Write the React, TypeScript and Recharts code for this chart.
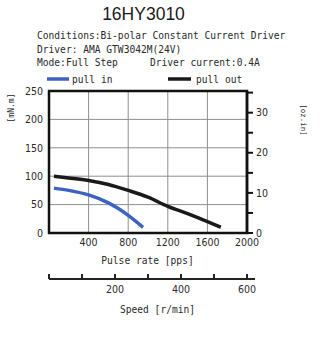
import { LineChart, Line, XAxis, YAxis, CartesianGrid, ReferenceArea } from 'recharts'

const pullInPps = [50, 200, 400, 600, 700, 800, 950]
const pullInTorque = [79, 75, 67, 53, 43, 31, 10]
const pullOutPps = [50, 200, 400, 600, 800, 1000, 1200, 1400, 1600, 1735]
const pullOutTorque = [100, 97, 92.5, 85.5, 75, 63, 47, 34, 20, 10]

const ppsTicks = [400, 800, 1200, 1600, 2000]
const torqueTicks = [0, 50, 100, 150, 200, 250]
const ozTicks = [0, 5, 10, 15, 20, 25, 30, 35]
const ozLabels = [0, 10, 20, 30]
const speedTicks = [0, 100, 200, 300, 400, 500, 600]
const speedLabels = [200, 400, 600]

const pullIn = pullInPps.map((pps, i) => ({ pps, torque: pullInTorque[i] }))
const pullOut = pullOutPps.map((pps, i) => ({ pps, torque: pullOutTorque[i] }))
const speedRows = speedTicks.map((rpm) => ({ rpm }))

const tickFont = "'Liberation Sans Narrow', 'DejaVu Sans Condensed', 'Liberation Sans', Arial, sans-serif"
const mono = "'DejaVu Sans Mono', 'Liberation Mono', monospace"
const textColor = '#2a2a2a'
const blue = '#3d63c2'

function OzTick(props: any) {
  const { x, y, payload } = props
  if (!ozLabels.includes(payload.value)) return null
  return (
    <text x={x} y={y} dy="0.35em" fill={textColor} fontSize={10.5} fontFamily={tickFont}>
      {payload.value}
    </text>
  )
}

// speed ticks point up from the axis line; the line runs a little past the last tick
function SpeedTick(props: any) {
  const { x, y, payload } = props
  const last = payload.value === speedTicks[speedTicks.length - 1]
  return (
    <g>
      <line x1={x} y1={y} x2={x} y2={y - 5} stroke="#222" strokeWidth={2} />
      {last && <line x1={x} y1={y} x2={x + 8} y2={y} stroke="#222" strokeWidth={2} />}
      {speedLabels.includes(payload.value) && (
        <text x={x} y={y + 14} textAnchor="middle" fill={textColor} fontSize={10.5} fontFamily={tickFont}>
          {payload.value}
        </text>
      )}
    </g>
  )
}

export default function App() {
  return (
    <div style={{ position: 'absolute', left: 0, top: 0, width: 323, height: 348, background: '#fff' }}>
      <LineChart
        width={323}
        height={348}
        data={speedRows}
        margin={{ top: 91, left: 9, right: 30, bottom: 39 }}
      >
        <CartesianGrid xAxisId="pps" yAxisId="left" stroke="#8f8f8f" strokeWidth={1} />
        <XAxis
          xAxisId="pps"
          dataKey="pps"
          type="number"
          domain={[0, 2000]}
          allowDataOverflow
          ticks={ppsTicks}
          interval={0}
          height={46}
          axisLine={false}
          tickLine={false}
          tickSize={0}
          tickMargin={6}
          tick={{ fill: textColor, fontSize: 10.5, fontFamily: tickFont }}
        />
        <XAxis
          xAxisId="speed"
          dataKey="rpm"
          type="number"
          domain={[0, 600]}
          allowDataOverflow
          ticks={speedTicks}
          interval={0}
          height={30}
          axisLine={{ stroke: '#222', strokeWidth: 2 }}
          tickLine={false}
          tickSize={0}
          tickMargin={0}
          tick={<SpeedTick />}
        />
        <YAxis
          yAxisId="left"
          type="number"
          domain={[0, 250]}
          allowDataOverflow
          ticks={torqueTicks}
          interval={0}
          width={40}
          axisLine={false}
          tickLine={false}
          tickSize={0}
          tickMargin={6}
          tick={{ fill: textColor, fontSize: 10.5, fontFamily: tickFont }}
        />
        <YAxis
          yAxisId="spacer"
          orientation="right"
          type="number"
          domain={[0, 1]}
          allowDataOverflow
          width={6}
          axisLine={false}
          tickLine={false}
          tick={false}
        />
        <YAxis
          yAxisId="oz"
          orientation="right"
          type="number"
          domain={[0, 250 / 7.0615]}
          allowDataOverflow
          ticks={ozTicks}
          interval={0}
          width={40}
          axisLine={{ stroke: '#111', strokeWidth: 2.5 }}
          tickLine={{ stroke: '#111', strokeWidth: 2 }}
          tickSize={6}
          tickMargin={3}
          tick={<OzTick />}
        />
        <ReferenceArea
          xAxisId="pps"
          yAxisId="left"
          x1={0}
          x2={2000}
          y1={0}
          y2={250}
          fill="none"
          fillOpacity={0}
          stroke="#111"
          strokeWidth={2.5}
        />
        <Line
          xAxisId="pps"
          yAxisId="left"
          data={pullOut}
          dataKey="torque"
          type="monotone"
          stroke="#1a1a1a"
          strokeWidth={3.5}
          dot={false}
          isAnimationActive={false}
        />
        <Line
          xAxisId="pps"
          yAxisId="left"
          data={pullIn}
          dataKey="torque"
          type="monotone"
          stroke={blue}
          strokeWidth={3.5}
          dot={false}
          isAnimationActive={false}
        />
      </LineChart>
      <svg
        width={323}
        height={348}
        style={{ position: 'absolute', left: 0, top: 0, pointerEvents: 'none' }}
      >
        <text x={143.5} y={19.5} textAnchor="middle" fontSize={17.5} fill="#1a1a1a" fontFamily="'Liberation Sans', Arial, sans-serif">
          16HY3010
        </text>
        <g fontFamily={mono} fontSize={9.6} fill={textColor}>
          <text x={37} y={39}>Conditions:Bi-polar Constant Current Driver</text>
          <text x={37} y={53}>Driver: AMA GTW3042M(24V)</text>
          <text x={37} y={65.5}>Mode:Full Step</text>
          <text x={150} y={65.5}>Driver current:0.4A</text>
          <text x={72} y={82.5}>pull in</text>
          <text x={196} y={82.5}>pull out</text>
          <text x={147.5} y={264} textAnchor="middle">Pulse rate [pps]</text>
          <text x={157.5} y={313} textAnchor="middle">Speed [r/min]</text>
        </g>
        <line x1={47} y1={79} x2={69} y2={79} stroke={blue} strokeWidth={3.5} />
        <line x1={168} y1={79} x2={191} y2={79} stroke="#1a1a1a" strokeWidth={3.5} />
        <text
          x={0}
          y={0}
          transform="translate(13.5,108) rotate(-90)"
          textAnchor="middle"
          fontSize={8}
          fontFamily={mono}
          fill={textColor}
        >
          [mN.m]
        </text>
        <text
          x={0}
          y={0}
          transform="translate(300.5,120) rotate(90)"
          textAnchor="middle"
          fontSize={7.5}
          fontFamily={mono}
          fill={textColor}
        >
          [oz.in]
        </text>
      </svg>
    </div>
  )
}
